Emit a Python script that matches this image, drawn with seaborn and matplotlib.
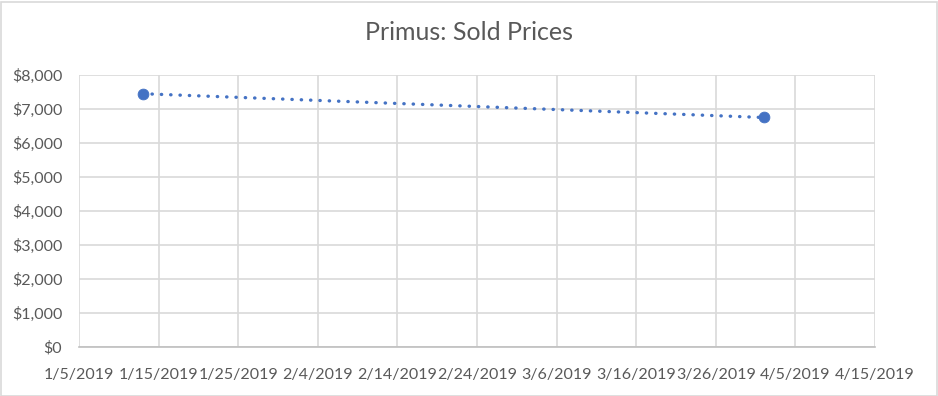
import numpy as np
import pandas as pd
import matplotlib
matplotlib.use("Agg")
import matplotlib.pyplot as plt
import matplotlib.dates as mdates
import matplotlib.ticker as mticker
import seaborn as sns

# data
sold_dates = ["2019-01-13", "2019-04-01"]
sold_prices = [7450, 6750]
tick_dates = pd.date_range("2019-01-05", "2019-04-15", freq="10D")

sns.set_style("white")
plt.rcParams['font.family'] = ['Lato', 'DejaVu Sans']

df = pd.DataFrame({"date": pd.to_datetime(sold_dates), "price": sold_prices})
df["x"] = mdates.date2num(df["date"])

# linear trendline, like Excel's
slope, intercept = np.polyfit(df["x"], df["price"], 1)
trend = pd.DataFrame({"x": df["x"], "price": slope * df["x"] + intercept})

fig = plt.figure(figsize=(9.38, 3.96), dpi=100)
ax = fig.add_axes([79 / 938, 1 - 347 / 396, (875 - 79) / 938, (347 - 75) / 396])

blue = "#4472C4"
grey_txt = "#595959"

sns.lineplot(data=trend, x="x", y="price", ax=ax, color=blue, lw=2.4,
             linestyle=(0, (0.1, 2.7)), dash_capstyle="round", zorder=2)
sns.scatterplot(data=df, x="x", y="price", ax=ax, color=blue, s=60,
                edgecolor=blue, zorder=3)

ax.set_xlim(mdates.date2num(tick_dates[0]), mdates.date2num(tick_dates[-1]))
ax.set_ylim(0, 8000)
ax.set_xticks(mdates.date2num(tick_dates))
ax.set_xticklabels([f"{d.month}/{d.day}/{d.year}" for d in tick_dates])
ax.yaxis.set_major_locator(mticker.MultipleLocator(1000))
ax.yaxis.set_major_formatter(mticker.FuncFormatter(lambda v, p: f"${v:,.0f}"))

ax.grid(True, color="#D9D9D9", lw=1.2)
ax.set_axisbelow(True)
for side in ["top", "right", "left"]:
    ax.spines[side].set_visible(False)
ax.spines["bottom"].set_color("#BFBFBF")
ax.spines["bottom"].set_linewidth(1.2)
ax.tick_params(axis="x", length=0, labelsize=11.5, colors=grey_txt, pad=15)
ax.tick_params(axis="y", length=0, labelsize=11.5, colors=grey_txt, pad=12)
ax.set_xlabel("")
ax.set_ylabel("")

fig.text(0.5, 1 - 32 / 396, "Primus: Sold Prices", ha="center", va="center",
         fontsize=18, color=grey_txt)

# outer chart border
fig.add_artist(plt.Rectangle((0.5 / 938, 0.5 / 396), 1 - 2 / 938, 1 - 2 / 396,
                             transform=fig.transFigure, fill=False,
                             edgecolor="#D9D9D9", lw=1.2))

fig.savefig("out.png", dpi=100)
